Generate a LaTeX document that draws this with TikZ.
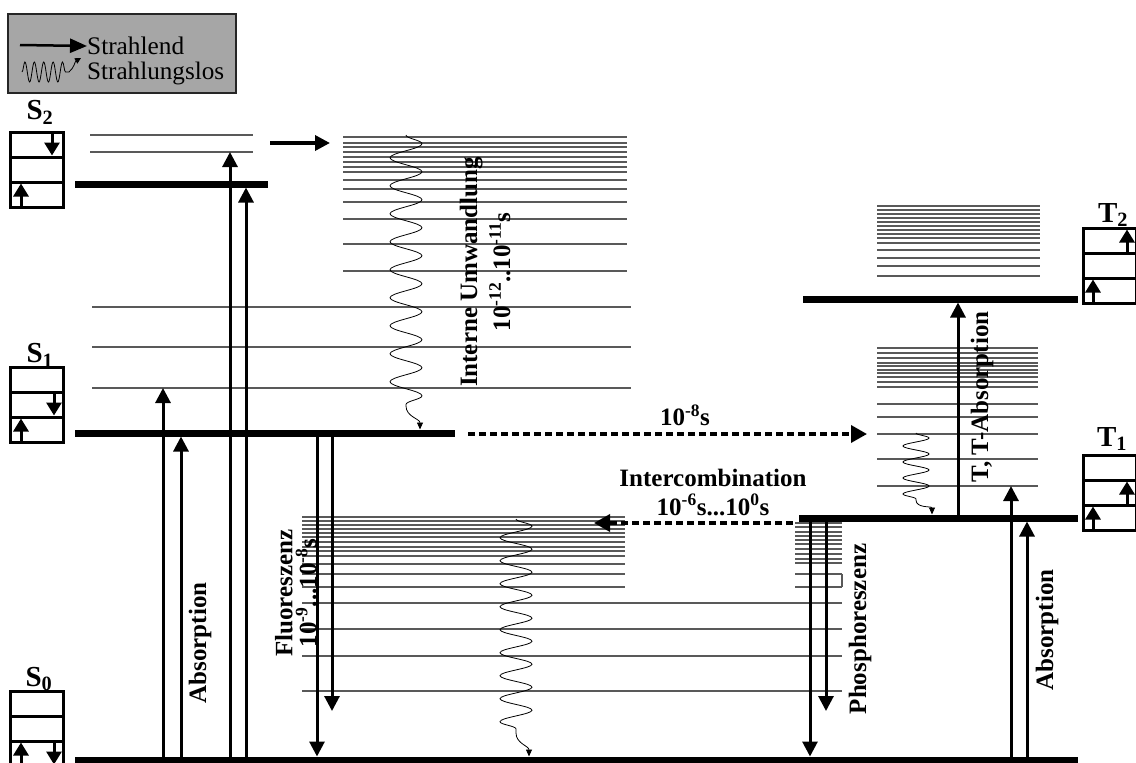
\documentclass[tikz,border=0pt]{standalone}
\usepackage{fontspec}
\usepackage{graphicx}
\setmainfont{Liberation Serif}
\usetikzlibrary{arrows.meta,positioning,decorations.pathmorphing,calc}

\tikzset{
  statebox/.pic={
    \draw[line width=3pt] (0,0) rectangle (53,75);
    \draw[line width=3pt] (0,25) -- (53,25) (0,50) -- (53,50);
    \coordinate (-r0) at (0,0);
    \coordinate (-r1) at (0,25);
    \coordinate (-r2) at (0,50);
    \coordinate (-r3) at (0,75);
  }
}

\begin{document}
\begin{tikzpicture}[
  x=1pt, y=-1pt,
  level/.style={fill=black, inner sep=0pt, outer sep=0pt, minimum height=7pt},
  vib/.style={line width=1.1pt, draw=black!65},
  rad/.style={line width=3pt, -{Triangle[length=15pt, width=15pt]}},
  spin/.style={line width=3pt, -{Triangle[length=13pt, width=15pt]}},
  isc/.style={line width=3.5pt, dash pattern=on 7pt off 4pt, -{Triangle[length=16pt, width=17pt]}},
  wavy/.style={line width=0.8pt, -{Triangle[length=7pt, width=6pt]}},
  bigsnake/.style={decoration={snake, amplitude=16pt, segment length=28pt}},
  smallsnake/.style={decoration={snake, amplitude=13pt, segment length=16pt}},
  legtxt/.style={font=\fontsize{25}{27}\selectfont, anchor=west, inner sep=0pt},
  statelbl/.style={font=\fontsize{29}{31}\selectfont\bfseries, inner sep=0pt},
  lbl/.style={font=\fontsize{25}{27}\selectfont\bfseries, rotate=90, align=center, inner sep=0pt},
  txt/.style={font=\fontsize{25}{27}\selectfont\bfseries, align=center, inner sep=0pt},
  legendbox/.style={draw=black!85, line width=2pt, fill=black!35, minimum width=228pt,
                    minimum height=79pt, inner sep=0pt},
]
\useasboundingbox (0,0) rectangle (1136,763);

% ---- legend ------------------------------------------------------------
\node[legendbox, anchor=north west] (legend) at (7,13) {};
\node[legtxt] (tRad) at (87,46) {\resizebox{97pt}{!}{Strahlend}};
\node[legtxt] (tNonrad) at (87,73) {\resizebox{137pt}{!}{Strahlungslos}};
\coordinate (lgA) at (20,45);
\coordinate (lgB) at (22,72);
\coordinate (lgC) at (69,72);
\coordinate (lgD) at (81,58);
\draw[line width=2.5pt, -{Triangle[length=17pt, width=14pt]}] (lgA) -- (tRad.west);
\draw[wavy, -{Triangle[length=6pt, width=6pt]}] (lgB)
  decorate[decoration={snake, amplitude=10pt, segment length=9.4pt}] {-- (lgC)}
  to[out=40, in=210] (lgD);

% ---- energy levels -----------------------------------------------------
\node[level, minimum width=193pt]  (S2) at (171.5,184) {};
\node[level, minimum width=380pt]  (S1) at (265,433) {};
\node[level, minimum width=1003pt] (S0) at (576.5,760) {};
\node[level, minimum width=275pt]  (T2) at (940.5,299) {};
\node[level, minimum width=279pt]  (T1) at (938.5,518) {};

% vibrational levels
\foreach \y in {135,152} \draw[vib] (90,\y) -- (253,\y);
\foreach \y in {137,143,147,152,157,162,167,172,180,189,202,219,244,271}
  \draw[vib] (343,\y) -- (627,\y);
\foreach \y in {307,347,388} \draw[vib] (92,\y) -- (631,\y);
\foreach \y in {517,521,525,529,533,537,542,547,551,556,564,574,587}
  \draw[vib] (302,\y) -- (625,\y);
\foreach \y in {603,629,656,691} \draw[vib] (302,\y) -- (842,\y);
\foreach \y in {523,527,532,536,540,544,549,554,559,563,574,587}
  \draw[vib] (795,\y) -- (842,\y);
\draw[vib] (842,574) -- (842,587);
\foreach \y in {206,210,214,218,222,226,230,234,238,243,250,258,266,276}
  \draw[vib] (877,\y) -- (1040,\y);
\foreach \y in {348,353,358,363,366,370,373,377,382,387,404,417,434,459,486}
  \draw[vib] (877,\y) -- (1038,\y);

\coordinate (S2v2) at (90,152);
\coordinate (S1v3) at (92,388);
\coordinate (T1v) at (877,486);
\coordinate (vibEnd) at (302,711);

% ---- state boxes -------------------------------------------------------
\pic (bS2) at (10,132) {statebox};
\pic (bS1) at (10,367) {statebox};
\pic (bS0) at (10,691) {statebox};
\pic (bT2) at (1083,228) {statebox};
\pic (bT1) at (1083,455) {statebox};

\draw[spin] ($(bS2-r0)+(42,0)$) -- ($(bS2-r1)+(42,-1.5)$);
\draw[spin] ($(bS2-r3)+(11,0)$) -- ($(bS2-r2)+(11,1.5)$);
\draw[spin] ($(bS1-r1)+(44,0)$) -- ($(bS1-r2)+(44,-1.5)$);
\draw[spin] ($(bS1-r3)+(11,0)$) -- ($(bS1-r2)+(11,1.5)$);
\draw[spin] ($(bS0-r3)+(11,0)$) -- ($(bS0-r2)+(11,1.5)$);
\draw[spin] ($(bS0-r2)+(44,0)$) -- ($(bS0-r3)+(44,-1.5)$);
\draw[spin] ($(bT2-r1)+(44,0)$) -- ($(bT2-r0)+(44,1.5)$);
\draw[spin] ($(bT2-r3)+(10,0)$) -- ($(bT2-r2)+(10,1.5)$);
\draw[spin] ($(bT1-r2)+(44,0)$) -- ($(bT1-r1)+(44,1.5)$);
\draw[spin] ($(bT1-r3)+(10,0)$) -- ($(bT1-r2)+(10,1.5)$);

\node[statelbl] (lS2) at (40,112) {S\textsubscript{2}};
\node[statelbl] (lS1) at (40,355) {S\textsubscript{1}};
\node[statelbl] (lS0) at (39,679) {S\textsubscript{0}};
\node[statelbl] (lT2) at (1113,215) {T\textsubscript{2}};
\node[statelbl] (lT1) at (1112,439) {T\textsubscript{1}};

% ---- radiative transitions ---------------------------------------------
\foreach \n/\x in {A1/163, A2/181, A3/230, A4/246, F1/317, F2/332,
                   P1/810, P2/826, TT/958, B1/1011, B2/1027,
                   IC/420, VR/529, VT/932}
  \coordinate (c\n) at (\x,0);

\draw[rad] (cA1 |- S0) -- (cA1 |- S1v3);
\draw[rad] (cA2 |- S0) -- (cA2 |- S1.south);
\draw[rad] (cA3 |- S0) -- (cA3 |- S2v2);
\draw[rad] (cA4 |- S0) -- (cA4 |- S2.south);
\draw[rad] (cF1 |- S1) -- (cF1 |- S0.north);
\draw[rad] (cF2 |- S1) -- (cF2 |- vibEnd);
\draw[rad] (cP1 |- T1) -- (cP1 |- S0.north);
\draw[rad] (cP2 |- T1) -- (cP2 |- vibEnd);
\draw[rad] (cB1 |- S0) -- (cB1 |- T1v);
\draw[rad] (cB2 |- S0) -- (cB2 |- T1.south);
\draw[rad] (cTT |- T1) -- (cTT |- T2.south);

\coordinate (hotA) at (270,143);
\coordinate (hotB) at (330,143);
\draw[line width=3.5pt, -{Triangle[length=15pt, width=15pt]}] (hotA) -- (hotB);

% ---- intersystem crossing ----------------------------------------------
\coordinate (iscA) at ($(S1.east)+(13,1)$);
\coordinate (iscB) at (867,434);
\draw[isc] (iscA) -- (iscB);
\coordinate (icbA) at (793,523);
\coordinate (icbB) at (594,523);
\draw[isc] (icbA) -- (icbB);

% ---- non-radiative relaxation ------------------------------------------
\coordinate (icS1) at (406,135);
\coordinate (icS2) at (406,406);
\coordinate (icS3) at (cIC |- S1.north);
\draw[wavy] (icS1) decorate[bigsnake] {-- (icS2)} to[out=-90, in=90] (icS3);

\coordinate (vrS1) at (516,519);
\coordinate (vrS2) at (516,733);
\coordinate (vrS3) at (cVR |- S0.north);
\draw[wavy] (vrS1) decorate[decoration={snake, amplitude=16pt, segment length=23pt}]
  {-- (vrS2)} to[out=-90, in=90] (vrS3);

\coordinate (vrT1) at (916,433);
\coordinate (vrT2) at (916,500);
\coordinate (vrT3) at (cVT |- T1.north);
\draw[wavy] (vrT1) decorate[smallsnake] {-- (vrT2)} to[out=-90, in=90] (vrT3);

% ---- labels ------------------------------------------------------------
\node[lbl] (labAbsS) at (200,643) {Absorption};
\node[lbl] (labIC) at (485,272)
  {Interne Umwandlung\\[6pt]10\textsuperscript{-12}..10\textsuperscript{-11}s};
\node[lbl] (labFl) at (296,593)
  {Fluoreszenz\\[-3pt]10\textsuperscript{-9}...10\textsuperscript{-8}s};
\node[lbl] (labPh) at (860,629) {Phosphoreszenz};
\node[lbl] (labTT) at (982,397) {T, T-Absorption};
\node[lbl] (labAbsT) at (1047,630) {Absorption};
\node[txt] (labISC) at (685,415) {10\textsuperscript{-8}s};
\node[txt] (labIcb) at (713,492)
  {Intercombination\\[2pt]10\textsuperscript{-6}s...10\textsuperscript{0}s};

\end{tikzpicture}
\end{document}
